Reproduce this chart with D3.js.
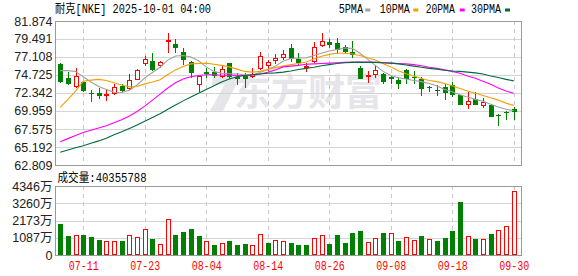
<!DOCTYPE html>
<html><head><meta charset="utf-8">
<script src="https://cdn.jsdelivr.net/npm/d3@7"></script>
<style>html,body{margin:0;padding:0;background:#fff;}svg{display:block;}</style>
</head><body>
<svg id="c" width="578" height="276"></svg>
<script>
const titleText = "耐克[NKE] 2025-10-01 04:00";
const dates = ["07-08","07-09","07-10","07-11","07-14","07-15","07-16","07-17","07-18","07-21","07-22","07-23","07-24","07-25","07-28","07-29","07-30","07-31","08-01","08-04","08-05","08-06","08-07","08-08","08-11","08-12","08-13","08-14","08-15","08-18","08-19","08-20","08-21","08-22","08-25","08-26","08-27","08-28","08-29","09-02","09-03","09-04","09-05","09-08","09-09","09-10","09-11","09-12","09-15","09-16","09-17","09-18","09-19","09-22","09-23","09-24","09-25","09-26","09-29","09-30"];
const open  = [76.22,74.29,73.29,73.77,72.40,72.39,72.08,72.34,73.29,72.99,74.25,76.33,76.63,76.07,79.19,78.88,77.80,76.41,73.56,75.10,75.10,74.60,76.32,74.45,74.55,74.65,75.63,76.07,76.75,77.15,78.30,76.80,75.85,76.58,78.66,79.13,78.92,78.47,77.80,75.70,74.60,74.86,74.90,74.40,74.06,75.33,74.50,74.25,73.15,72.80,73.15,73.43,72.05,70.92,71.60,70.75,70.70,69.45,69.85,70.18];
const high  = [76.35,75.07,75.59,73.85,72.77,73.00,72.86,73.47,73.47,74.85,75.55,77.24,77.67,76.63,80.30,79.45,78.32,76.59,74.64,75.60,75.80,76.00,76.37,75.00,74.95,75.70,77.80,76.76,77.50,78.02,78.84,77.62,76.35,79.10,80.30,79.50,79.58,78.70,79.20,75.94,75.25,76.00,75.05,74.65,74.50,75.50,75.20,74.40,73.30,73.40,73.50,73.75,72.10,72.45,72.45,71.70,70.90,69.52,70.00,70.45];
const low   = [73.80,73.56,73.12,72.56,71.26,71.73,71.39,72.26,72.56,72.86,74.20,76.02,75.42,75.72,77.75,77.80,76.15,74.42,72.55,74.45,74.42,74.42,74.29,73.50,73.10,74.50,75.50,75.45,76.30,76.85,76.59,76.24,75.25,76.50,78.50,78.48,77.60,77.70,77.15,74.31,73.86,74.50,73.65,73.60,73.04,73.60,73.70,72.05,72.62,72.03,71.60,71.95,70.90,70.40,70.85,70.55,69.25,68.05,68.85,68.88];
const close = [73.97,73.68,74.64,72.77,72.36,72.12,72.21,73.08,72.69,74.12,75.42,76.89,75.51,76.41,79.36,78.43,76.80,75.07,74.62,75.00,74.70,75.52,74.55,74.38,74.29,74.85,77.24,76.47,76.95,77.50,77.04,76.38,75.95,78.40,79.18,78.79,78.13,77.94,77.50,74.35,74.68,75.39,73.96,74.35,73.70,74.36,74.42,73.05,73.10,72.74,72.42,72.20,70.95,71.33,70.95,71.20,69.30,69.40,69.78,69.90];
// volume in 万 shares; 1 = up vs previous close (red), 0 = down (green)
const volume = [1953,1197,1241,1260,1134,945,863,863,882,1241,1115,1619,1008,674,2249,1260,1449,1638,1197,863,630,737,882,630,693,609,1302,756,924,863,756,630,630,1050,1241,693,1260,756,1386,1512,798,1050,1386,1365,882,1115,945,1197,987,882,1071,1512,3339,1176,1008,987,1323,1554,1827,4035.5788];
const volUp = [0,0,1,0,0,0,1,1,0,1,1,1,0,1,1,0,0,0,0,1,0,1,0,0,0,1,1,0,1,1,0,0,0,1,1,0,0,0,0,0,1,1,0,1,0,1,1,0,1,0,0,0,0,1,0,1,0,1,1,1];
const ma5  = [75.3,75.3,75.2,74.5,73.8,73.2,72.8,72.45,72.4,72.7,73.4,74.35,75.05,75.75,76.7,77.25,77.3,77.1,76.6,75.8,75.2,74.95,74.9,74.85,74.75,74.75,75.05,75.45,75.9,76.55,76.9,76.95,77.0,77.3,77.6,77.9,78.1,78.3,78.25,77.6,76.8,76.0,75.2,74.65,74.35,74.2,74.0,73.85,73.6,73.3,72.8,72.5,72.1,71.8,71.5,71.25,70.85,70.5,70.2,70.0];
const ma10 = [70.45,71.5,72.6,73.9,74.05,74.15,74.0,73.7,73.4,73.15,73.2,73.55,73.8,74.1,74.8,75.4,75.85,76.2,76.25,76.3,76.15,76.0,75.8,75.5,75.2,75.1,75.2,75.45,75.7,75.9,76.1,76.25,76.45,76.85,77.2,77.45,77.6,77.6,77.5,77.3,77.0,76.7,76.25,75.8,75.3,74.9,74.6,74.25,74.0,73.85,73.6,73.3,72.95,72.6,72.3,72.0,71.7,71.4,71.0,70.7];
const ma20 = [65.9,66.3,66.7,67.1,67.4,67.7,68.0,68.4,68.8,69.3,69.9,70.6,71.4,72.2,73.0,73.7,74.2,74.5,74.65,74.75,74.75,74.7,74.7,74.65,74.65,74.7,74.85,75.1,75.4,75.8,75.9,76.0,76.15,76.2,76.25,76.3,76.35,76.4,76.45,76.45,76.45,76.4,76.35,76.3,76.25,76.2,76.1,75.95,75.75,75.6,75.4,75.2,74.95,74.6,74.3,73.9,73.5,73.0,72.6,72.3];
const ma30 = [64.5,64.8,65.1,65.35,65.7,66.0,66.35,66.8,67.2,67.65,68.1,68.6,69.1,69.6,70.2,70.75,71.3,71.8,72.3,72.8,73.3,73.8,74.2,74.5,74.65,74.75,74.85,74.95,75.0,75.1,75.25,75.45,75.6,75.75,75.95,76.1,76.25,76.35,76.4,76.4,76.4,76.4,76.35,76.3,76.2,76.05,75.9,75.75,75.6,75.5,75.35,75.25,75.2,75.1,75.0,74.85,74.6,74.4,74.15,73.95];
const priceTicks = [62.809,65.192,67.575,69.959,72.342,74.725,77.108,79.491,81.874];
const volTicks = [0,1087,2173,3260,4346];
const xTickDates = ["07-11","07-23","08-04","08-14","08-26","09-08","09-18","09-30"];
const maNames = ["5PMA","10PMA","20PMA","30PMA"];
const maColors = ["#a0a0a0","#f0a000","#ff00ff","#006b3c"];

const svg = d3.select("#c");
const L = 55.5, R = 521.5, T = 21, B = 165, VT = 186, VB = 255;
const x = d3.scaleLinear().domain([0, dates.length - 1]).range([60.2, 513.7]);
const y = d3.scaleLinear().domain([priceTicks[0], priceTicks[priceTicks.length-1]]).range([B, T]);
const yv = d3.scaleLinear().domain([0, volTicks[volTicks.length-1]]).range([VB, VT]);
const RED = "#ff0000", GREEN = "#008000";
const px = v => Math.round(v) + 0.5;

// watermark
const wm = svg.append("g").attr("fill", "#e5e5ea");
wm.append("path").attr("d", "M213,76 L239,73 L237,83 L223,111 L210,111 L225,84 L212,85 Z");
wm.append("text").attr("x", 234).attr("y", 106).attr("font-size", 37).attr("font-weight", "bold")
  .attr("font-family", "'Noto Sans CJK SC'").text("东方财富");

// horizontal grid
const gridG = svg.append("g").attr("shape-rendering", "crispEdges");
gridG.selectAll("line.hp").data(priceTicks).join("line")
  .attr("x1", L).attr("x2", R).attr("y1", d => px(y(d))).attr("y2", d => px(y(d)))
  .attr("stroke", "#d4d4d4");
gridG.selectAll("line.hv").data(volTicks).join("line")
  .attr("x1", L).attr("x2", R).attr("y1", d => px(yv(d))).attr("y2", d => px(yv(d)))
  .attr("stroke", "#d4d4d4");
// vertical dashed grid
const xTickIdx = xTickDates.map(d => dates.indexOf(d));
[[T, B], [VT, VB]].forEach(([a, b]) => {
  gridG.append("g").selectAll("line").data(xTickIdx).join("line")
    .attr("x1", d => px(x(d))).attr("x2", d => px(x(d)))
    .attr("y1", a).attr("y2", b)
    .attr("stroke", "#c8c8c8").attr("stroke-dasharray", "4,4");
});
// borders
[[T, B], [VT, VB]].forEach(([a, b]) => {
  gridG.append("rect").attr("x", L).attr("y", px(a)).attr("width", R - L).attr("height", Math.round(b) - Math.round(a))
    .attr("fill", "none").attr("stroke", "#999");
});

// candles
const cg = svg.append("g").attr("shape-rendering", "crispEdges");
dates.forEach((d, i) => {
  const cx = Math.round(x(i));
  const up = close[i] > open[i];
  const yo = Math.round(y(open[i])), yc = Math.round(y(close[i]));
  const yh = Math.round(y(high[i])), yl = Math.round(y(low[i]));
  const top = Math.min(yo, yc), bot = Math.max(yo, yc);
  if (up) {
    if (yh < top) cg.append("line").attr("x1", cx + .5).attr("x2", cx + .5).attr("y1", yh).attr("y2", top).attr("stroke", RED);
    if (yl > bot) cg.append("line").attr("x1", cx + .5).attr("x2", cx + .5).attr("y1", bot).attr("y2", yl + 1).attr("stroke", RED);
    cg.append("rect").attr("x", cx - 1.5).attr("y", top + .5).attr("width", 4).attr("height", Math.max(1, bot - top))
      .attr("fill", "#fff").attr("stroke", RED);
  } else {
    cg.append("line").attr("x1", cx + .5).attr("x2", cx + .5).attr("y1", yh).attr("y2", yl + 1).attr("stroke", GREEN);
    cg.append("rect").attr("x", cx - 2).attr("y", top).attr("width", 5).attr("height", Math.max(1, bot - top + 1))
      .attr("fill", GREEN);
  }
});

// moving averages
const mas = [ma5, ma10, ma20, ma30];
const line = d3.line().x((d, i) => x(i)).y(d => y(d));
mas.forEach((m, k) => {
  svg.append("path").attr("d", line(m)).attr("fill", "none").attr("stroke", maColors[k]).attr("stroke-width", 1.1);
});

// volume bars
const vg = svg.append("g").attr("shape-rendering", "crispEdges");
volume.forEach((v, i) => {
  const cx = Math.round(x(i));
  const yt = Math.round(yv(v));
  if (volUp[i]) {
    vg.append("rect").attr("x", cx - 1.5).attr("y", yt + .5).attr("width", 4).attr("height", VB - yt - 1)
      .attr("fill", "#fff").attr("stroke", RED);
  } else {
    vg.append("rect").attr("x", cx - 2).attr("y", yt).attr("width", 5).attr("height", VB - yt)
      .attr("fill", GREEN);
  }
});

// axes
const fontNum = "'Liberation Sans', Arial, sans-serif";
const ay = svg.append("g").attr("transform", `translate(${L},0)`)
  .call(d3.axisLeft(y).tickValues(priceTicks).tickFormat(d3.format(".3f")).tickSize(0).tickPadding(3));
const av = svg.append("g").attr("transform", `translate(${L},0)`)
  .call(d3.axisLeft(yv).tickValues(volTicks).tickFormat(d => d + (d ? "万" : "")).tickSize(0).tickPadding(3));
const ax = svg.append("g").attr("transform", `translate(0,${VB})`)
  .call(d3.axisBottom(x).tickValues(xTickIdx).tickFormat(i => dates[i]).tickSize(0).tickPadding(6.5));
[ay, av, ax].forEach(a => { a.select(".domain").remove(); });
ay.selectAll("text").attr("font-family", fontNum).attr("font-size", 12.5).attr("fill", "#222");
av.selectAll("text").attr("font-family", "'Liberation Sans','Noto Sans CJK SC',sans-serif").attr("font-size", 12.5).attr("fill", "#222");
ax.selectAll("text").attr("font-family", "'Liberation Mono','DejaVu Sans Mono',monospace").attr("font-size", 12)
  .attr("fill", "#ff0000").attr("textLength", 30).attr("lengthAdjust", "spacingAndGlyphs");

// title & legend
const monoCJK = "'Liberation Mono','Noto Sans CJK SC',monospace";
svg.append("text").attr("x", 55).attr("y", 13).attr("font-family", monoCJK).attr("font-size", 12)
  .attr("fill", "#000").attr("textLength", 156).attr("lengthAdjust", "spacingAndGlyphs").text(titleText);
const legX = [338.7, 379.7, 425.7, 471];
const legW = [24.3, 30, 29, 30];
const legM = [365.3, 413.3, 459.7, 505];
maNames.forEach((n, k) => {
  svg.append("text").attr("x", legX[k]).attr("y", 13).attr("font-family", monoCJK).attr("font-size", 12)
    .attr("fill", "#000").attr("textLength", legW[k]).attr("lengthAdjust", "spacingAndGlyphs").text(n);
  svg.append("rect").attr("x", legM[k]).attr("y", 8.5).attr("width", 5).attr("height", 3).attr("fill", maColors[k]);
});
svg.append("text").attr("x", 57.5).attr("y", 182).attr("font-family", monoCJK).attr("font-size", 12)
  .attr("fill", "#000").attr("textLength", 89).attr("lengthAdjust", "spacingAndGlyphs")
  .text("成交量:" + Math.round(volume[volume.length - 1] * 10000));
</script>
</body></html>
